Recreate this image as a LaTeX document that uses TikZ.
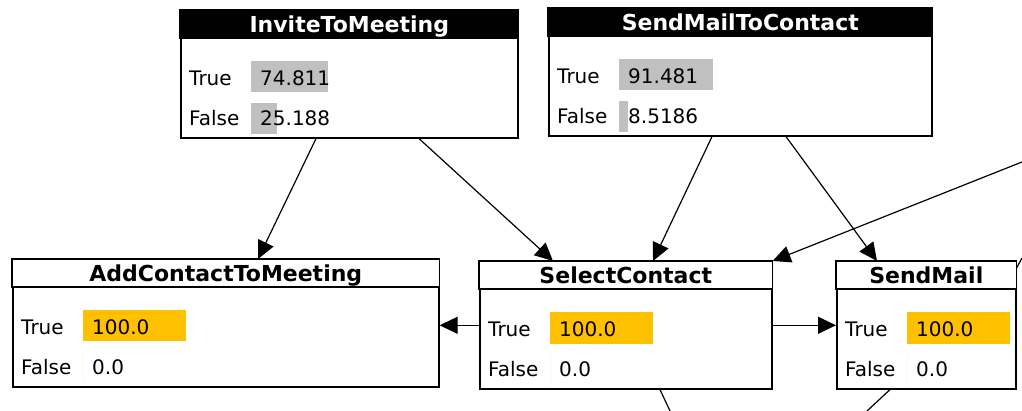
\documentclass[tikz,border=0pt]{standalone}
\usepackage{fontspec}
\setmainfont{DejaVu Sans}
\usetikzlibrary{arrows.meta,calc}
\definecolor{bargrey}{RGB}{192,192,192}
\definecolor{baryellow}{RGB}{255,192,0}
\tikzset{
  box/.style={draw=black, line width=1.6pt, fill=white, rectangle, inner sep=0pt, anchor=north west, minimum height=127pt},
  hdr-dark/.style={fill=black, draw=black, line width=1.6pt},
  hdr-light/.style={fill=white, draw=black, line width=1.6pt},
  ttl-dark/.style={text=white, font=\fontsize{22}{26}\selectfont\bfseries, inner sep=0pt, anchor=base},
  ttl-light/.style={text=black, font=\fontsize{22}{26}\selectfont\bfseries, inner sep=0pt, anchor=base},
  lbl/.style={font=\fontsize{20}{24}\selectfont, anchor=base west, inner sep=0pt, text=black},
  grey/.style={fill=bargrey},
  yellow/.style={fill=baryellow},
  arr/.style={draw=black, line width=1.2pt, -{Triangle[length=18pt,width=17pt]}},
  link/.style={draw=black, line width=1.2pt},
}
% #1 name, #2 x, #3 y, #4 width, #5 title, #6 dark/light, #7 bar style, #8 true value, #9 false value
\newcommand\cptbox[9]{%
  \node[box, minimum width=#4pt] (#1) at (#2,#3) {};
  \path[hdr-#6] (#1.north west) rectangle ([yshift=-28pt]#1.north east);
  \node[ttl-#6] (#1-title) at ([yshift=-23pt]#1.north) {#5};
  \pgfmathsetmacro\tbw{103*#8/100}
  \pgfmathsetmacro\fbw{103*#9/100}
  \fill[#7] ([xshift=71pt,yshift=-51.5pt]#1.north west) rectangle ++(\tbw,31);
  \fill[#7] ([xshift=71pt,yshift=-93pt]#1.north west) rectangle ++(\fbw,31);
  \node[lbl] (#1-tl) at ([xshift=9pt,yshift=-75.5pt]#1.north west) {True};
  \node[lbl] (#1-fl) at ([xshift=9pt,yshift=-115.5pt]#1.north west) {False};
  \node[lbl] (#1-tv) at ([xshift=80pt,yshift=-75.5pt]#1.north west) {#8};
  \node[lbl] (#1-fv) at ([xshift=80pt,yshift=-115.5pt]#1.north west) {#9};
}
\begin{document}
\begin{tikzpicture}[x=1pt,y=-1pt]
\useasboundingbox (0,0) rectangle (1022,411);
\cptbox{invite}{180}{10}{337}{InviteToMeeting}{dark}{grey}{74.811}{25.188}
\cptbox{smtc}{548}{8}{383}{SendMailToContact}{dark}{grey}{91.481}{8.5186}
\cptbox{addc}{12}{259}{426}{AddContactToMeeting}{light}{yellow}{100.0}{0.0}
\cptbox{selc}{479}{261}{292}{SelectContact}{light}{yellow}{100.0}{0.0}
\cptbox{sendm}{836}{261}{179}{SendMail}{light}{yellow}{100.0}{0.0}
% free ends
\coordinate (offright) at (1022,162);
\coordinate (selcdown) at (670,411);
\coordinate (sendmdown) at (867,411);
\coordinate (sendmup) at (1022,258);
% connectors
\draw[arr] ([xshift=136pt]invite.south west) -- ([xshift=246pt]addc.north west);
\draw[arr] ([xshift=239pt]invite.south west) -- ([xshift=74pt]selc.north west);
\draw[arr] ([xshift=164pt]smtc.south west) -- ([xshift=174pt]selc.north west);
\draw[arr] ([xshift=238pt]smtc.south west) -- ([xshift=41pt]sendm.north west);
\draw[arr] (offright) -- (selc.north east);
\draw[arr] (selc.west) -- (selc.west -| addc.east);
\draw[arr] (selc.east) -- (selc.east -| sendm.west);
\draw[link] ([xshift=181pt]selc.south west) -- (selcdown);
\draw[link] ([xshift=54pt]sendm.south west) -- (sendmdown);
\draw[link] ([yshift=-7pt]sendm.north east) -- (sendmup);
\end{tikzpicture}
\end{document}
